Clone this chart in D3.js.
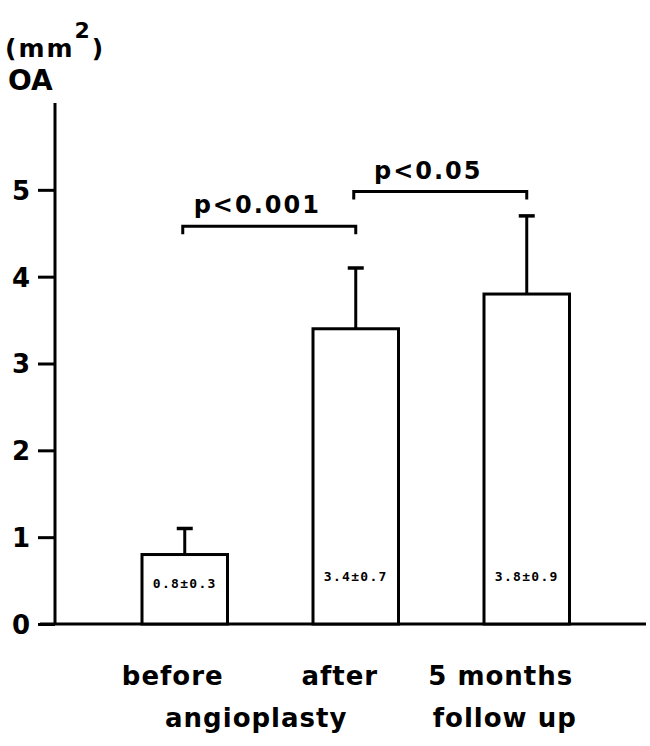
<!DOCTYPE html>
<html><head><meta charset="utf-8">
<script src="https://cdn.jsdelivr.net/npm/d3@7"></script>
<style>body{margin:0;background:#fff}svg{display:block}</style>
</head><body>
<script>
const categories = ["before", "after", "5 months"];
const means = [0.8, 3.4, 3.8];
const sds = [0.3, 0.7, 0.9];
const valueLabels = ["0.8\u00b10.3", "3.4\u00b10.7", "3.8\u00b10.9"];
const yTicks = [0, 1, 2, 3, 4, 5];
const brackets = [
  {from: "before", to: "after", level: 4.58, label: "p<0.001"},
  {from: "after", to: "5 months", level: 4.98, label: "p<0.05"}
];
const groupLabels = [{cats: ["before", "after"], text: "angioplasty"}, {cats: ["5 months"], text: "follow up"}];

const W = 650, H = 746;
const svg = d3.select("body").append("svg").attr("width", W).attr("height", H);
const font = "'DejaVu Sans', sans-serif";
const y = d3.scaleLinear().domain([0, 6]).range([624, 103]);
const x = d3.scaleBand().domain(categories).range([142, 569.5]).paddingInner(0.5).paddingOuter(0);
const bw = x.bandwidth();
const cx = c => x(c) + bw / 2;

// y axis
const yAxis = svg.append("g").attr("transform", "translate(55,0)")
  .call(d3.axisLeft(y).tickValues(yTicks).tickSize(17).tickPadding(8).tickFormat(d3.format("d")));
yAxis.select(".domain").attr("d", `M0,${y(6)}V${y(0)}`).attr("stroke", "#000").attr("stroke-width", 3);
yAxis.selectAll(".tick line").attr("stroke", "#000").attr("stroke-width", 3);
yAxis.selectAll(".tick text").attr("font-family", font).attr("font-weight", "bold").attr("font-size", 26).attr("fill", "#000").attr("dy", "0.36em");

// x axis baseline
svg.append("line").attr("x1", 40).attr("x2", 646).attr("y1", y(0)).attr("y2", y(0))
  .attr("stroke", "#000").attr("stroke-width", 3);

// bars
svg.selectAll("rect.bar").data(categories).join("rect").attr("class", "bar")
  .attr("x", c => x(c)).attr("width", bw)
  .attr("y", (c, i) => y(means[i])).attr("height", (c, i) => y(0) - y(means[i]))
  .attr("fill", "#fff").attr("stroke", "#000").attr("stroke-width", 3);

// error bars
const eb = svg.selectAll("g.err").data(categories).join("g").attr("class", "err");
eb.append("line").attr("x1", cx).attr("x2", cx)
  .attr("y1", (c, i) => y(means[i])).attr("y2", (c, i) => y(means[i] + sds[i]))
  .attr("stroke", "#000").attr("stroke-width", 3);
eb.append("line").attr("x1", c => cx(c) - 8).attr("x2", c => cx(c) + 8)
  .attr("y1", (c, i) => y(means[i] + sds[i])).attr("y2", (c, i) => y(means[i] + sds[i]))
  .attr("stroke", "#000").attr("stroke-width", 3.5);

// value labels inside bars
svg.selectAll("text.val").data(categories).join("text").attr("class", "val")
  .attr("x", cx).attr("y", (c, i) => i === 0 ? 588 : 581)
  .attr("text-anchor", "middle").attr("font-family", "'DejaVu Sans Mono', monospace")
  .attr("font-weight", "bold").attr("font-size", 13).attr("letter-spacing", 1.3)
  .text((c, i) => valueLabels[i]);

// brackets
brackets.forEach(b => {
  const x1 = cx(b.from) - 2, x2 = cx(b.to), yy = y(b.level);
  svg.append("path").attr("d", `M${x1},${yy + 8}V${yy}H${x2}V${yy + 8}`)
    .attr("fill", "none").attr("stroke", "#000").attr("stroke-width", 3);
  svg.append("text").attr("x", (x1 + x2) / 2 - 12).attr("y", yy - 13)
    .attr("text-anchor", "middle").attr("font-family", font).attr("font-weight", "bold").attr("font-size", 24)
    .attr("letter-spacing", 2).attr("fill", "#000").text(b.label);
});

// category labels
const lab = svg.append("g").attr("font-family", font).attr("font-weight", "bold").attr("font-size", 26).attr("fill", "#000");
const shifts = [-12, -16, -26];
categories.forEach((c, i) => {
  lab.append("text").attr("x", cx(c) + shifts[i]).attr("y", 685).attr("text-anchor", "middle")
    .attr("letter-spacing", 1).text(c);
});
groupLabels.forEach(g => {
  const m = d3.mean(g.cats, cx);
  lab.append("text").attr("x", m + (g.cats.length > 1 ? -14 : -22)).attr("y", 727).attr("text-anchor", "middle")
    .attr("letter-spacing", 1).text(g.text);
});

// y axis title
const t = svg.append("text").attr("x", 5).attr("y", 57).attr("font-family", font).attr("font-weight", "bold").attr("font-size", 25).attr("letter-spacing", 2).attr("fill", "#000");
t.append("tspan").text("(mm");
t.append("tspan").attr("dy", -19).attr("font-size", 22).text("2");
t.append("tspan").attr("dy", 19).text(")");
svg.append("text").attr("x", 8).attr("y", 90).attr("font-family", font).attr("font-weight", "bold").attr("font-size", 28).attr("fill", "#000").text("OA");
</script>
</body></html>
